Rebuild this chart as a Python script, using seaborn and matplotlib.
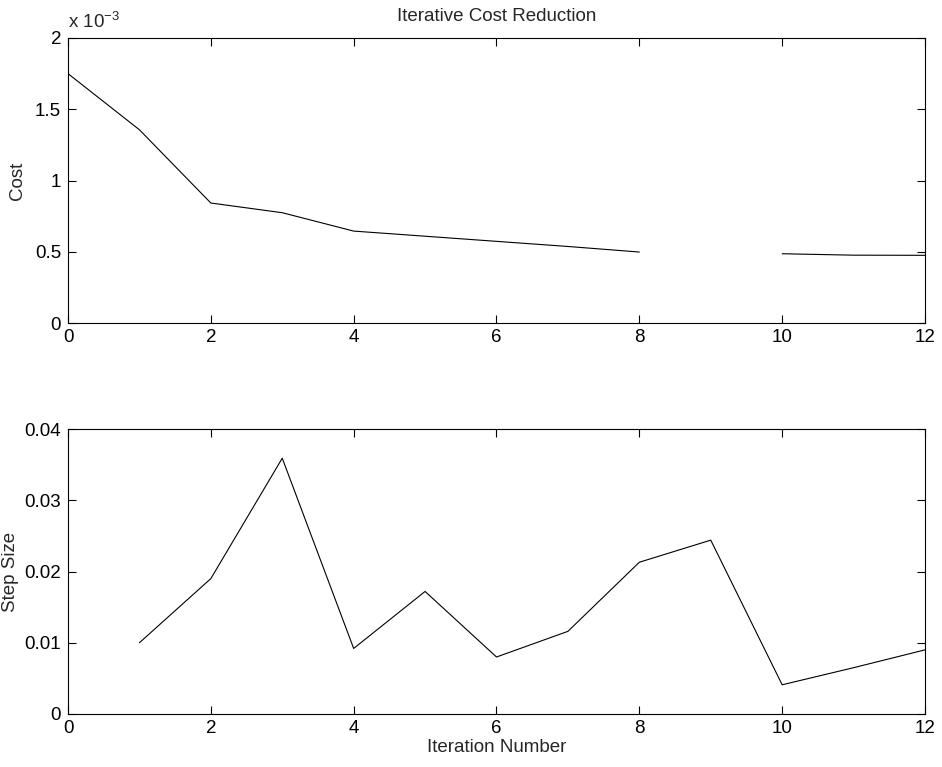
import numpy as np
import pandas as pd
import seaborn as sns
import matplotlib
matplotlib.use("Agg")
import matplotlib.pyplot as plt
from matplotlib.ticker import FuncFormatter, FixedLocator

# Cost per iteration (iteration 9 has no recorded cost)
cost_iter = [0, 1, 2, 3, 4, 5, 6, 7, 8, 9, 10, 11, 12]
cost_vals = [1.75e-3, 1.356e-3, 0.842e-3, 0.774e-3, 0.645e-3, 0.609e-3, 0.573e-3,
             0.537e-3, 0.498e-3, np.nan, 0.486e-3, 0.476e-3, 0.475e-3]

# Step size taken at each iteration
step_iter = [1, 2, 3, 4, 5, 6, 7, 8, 9, 10, 11, 12]
step_vals = [0.0100, 0.0190, 0.0359, 0.0092, 0.0172, 0.0080, 0.0116,
             0.0213, 0.0244, 0.0041, 0.0065, 0.0090]

x_ticks = [0, 2, 4, 6, 8, 10, 12]
cost_ticks = [0, 0.5e-3, 1.0e-3, 1.5e-3, 2.0e-3]
step_ticks = [0, 0.01, 0.02, 0.03, 0.04]

FS = 13.5

sns.set_theme(style="white")
plt.rcParams["font.family"] = ["Liberation Sans", "DejaVu Sans"]
plt.rcParams["font.size"] = FS
plt.rcParams["axes.linewidth"] = 0.8
plt.rcParams["axes.edgecolor"] = "black"
plt.rcParams["mathtext.fontset"] = "custom"
plt.rcParams["mathtext.rm"] = "Liberation Sans"
plt.rcParams["mathtext.it"] = "Liberation Sans"

fig = plt.figure(figsize=(9.42, 7.67), dpi=100)
ax1 = fig.add_axes([68 / 942, 1 - 323 / 767, (925 - 68) / 942, (323 - 38) / 767])
ax2 = fig.add_axes([68 / 942, 1 - 714 / 767, (925 - 68) / 942, (714 - 429) / 767])

cost_df = pd.DataFrame({"iteration": cost_iter, "cost": cost_vals})
cost_df["segment"] = cost_df["cost"].isna().cumsum()
cost_df = cost_df.dropna()
sns.lineplot(data=cost_df, x="iteration", y="cost", units="segment", estimator=None,
             color="black", linewidth=0.8, ax=ax1)

step_df = pd.DataFrame({"iteration": step_iter, "step": step_vals})
sns.lineplot(data=step_df, x="iteration", y="step", color="black", linewidth=0.8, ax=ax2)


def fmt_plain(v, _pos):
    return f"{v:.10g}"


ax1.set_xlim(0, 12)
ax1.set_ylim(0, 2e-3)
ax1.yaxis.set_major_locator(FixedLocator(cost_ticks))
ax1.yaxis.set_major_formatter(FuncFormatter(lambda v, p: f"{v * 1e3:.10g}"))
ax1.text(0.0, 1.02, r"x 10$^{-3}$", transform=ax1.transAxes, ha="left", va="bottom",
         fontsize=FS)
ax1.set_title("Iterative Cost Reduction", fontsize=FS, pad=12)
ax1.set_ylabel("Cost", fontsize=FS, labelpad=6)
ax1.set_xlabel("")

ax2.set_xlim(0, 12)
ax2.set_ylim(0, 0.04)
ax2.yaxis.set_major_locator(FixedLocator(step_ticks))
ax2.yaxis.set_major_formatter(FuncFormatter(fmt_plain))
ax2.set_ylabel("Step Size", fontsize=FS, labelpad=4)
ax2.set_xlabel("Iteration Number", fontsize=FS, labelpad=1)

for ax in (ax1, ax2):
    ax.xaxis.set_major_locator(FixedLocator(x_ticks))
    ax.xaxis.set_major_formatter(FuncFormatter(fmt_plain))
    ax.tick_params(direction="in", length=6, width=0.8, colors="black",
                   top=True, right=True, bottom=True, left=True, labelsize=FS)
    ax.tick_params(axis="x", pad=4.5)
    ax.tick_params(axis="y", pad=5)
    for sp in ax.spines.values():
        sp.set_visible(True)
        sp.set_color("black")
    ax.grid(False)

fig.savefig("out.png", dpi=100, facecolor="white")
